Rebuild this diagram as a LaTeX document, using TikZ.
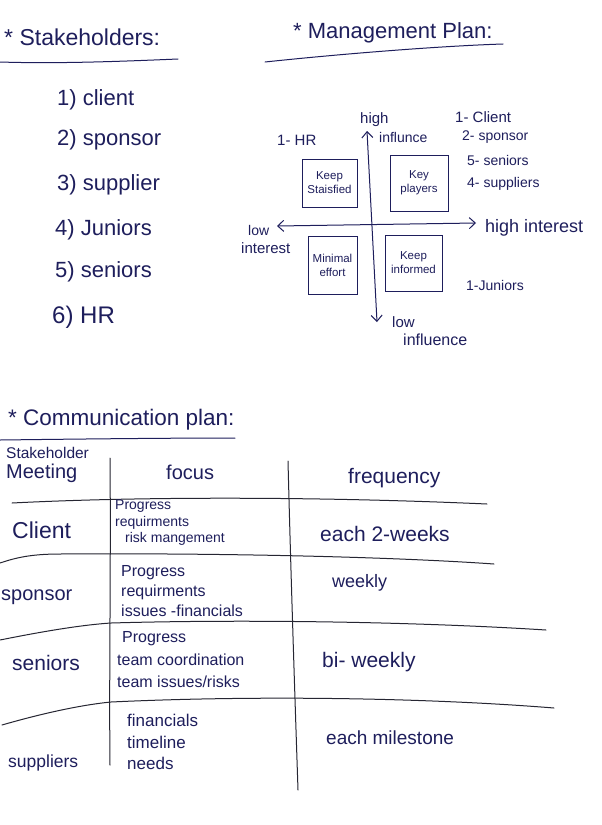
\documentclass[tikz,border=0pt]{standalone}
\usepackage{fontspec}
\setmainfont{Liberation Sans}
\usetikzlibrary{arrows.meta}
\definecolor{ink}{RGB}{30,30,92}
\definecolor{rule}{RGB}{38,38,50}
\begin{document}
\begin{tikzpicture}[x=1pt,y=-1pt,
  every node/.style={text=ink, inner sep=0pt},
  heading/.style={anchor=west, font=\fontsize{23}{26}\selectfont},
  listitem/.style={anchor=west, font=\fontsize{22}{24}\selectfont},
  note/.style={anchor=west, font=\fontsize{14}{16}\selectfont},
  quad/.style={draw=ink, line width=0.9pt, align=center,
    font=\fontsize{11.5}{14}\selectfont},
  pen/.style={draw=ink, line width=1pt, line cap=round},
  gridline/.style={draw=rule, line width=1pt, line cap=round},
  axis/.style={pen, {Straight Barb[length=6pt,width=11pt]}-{Straight Barb[length=6pt,width=11pt]}},
  rowlabel/.style={anchor=west, font=\fontsize{20}{24}\selectfont},
  focusline/.style={anchor=west, align=left},
  freq/.style={anchor=west, font=\fontsize{19}{22}\selectfont},
]
\useasboundingbox[fill=white] (0,0) rectangle (602,825);

% ---------- stakeholders ----------
\node[heading] (stk) at (4,37) {* Stakeholders:};
\draw[pen] (0,62) .. controls (60,64) and (130,61) .. (178,59);
\node[listitem] (s1) at (57,100) {1) client};
\node[listitem] (s2) at (57,140) {2) sponsor};
\node[listitem] (s3) at (57,185) {3) supplier};
\node[listitem] (s4) at (55,230) {4) Juniors};
\node[listitem] (s5) at (55,272) {5) seniors};
\node[listitem, font=\fontsize{24}{24}\selectfont] (s6) at (52,317) {6) HR};

% ---------- management plan (power / interest grid) ----------
\node[heading, font=\fontsize{22}{24}\selectfont] (mgt) at (293,33) {* Management Plan:};
\draw[pen] (265,62) .. controls (340,54) and (440,46) .. (503,44);

\coordinate (vtop) at (367,131);
\coordinate (vbot) at (377,322);
\coordinate (hleft) at (277,226);
\coordinate (hright) at (476,223);
\draw[axis] (vbot) -- (vtop);
\draw[axis] (hleft) -- (hright);

\node[note, font=\fontsize{15}{16}\selectfont] (hi1) at (360,120) {high};
\node[note, font=\fontsize{14}{16}\selectfont] (hi2) at (379,137) {influnce};
\node[note, font=\fontsize{15}{16}\selectfont] (hr) at (277,140) {1- HR};

\node[quad, minimum width=55pt, minimum height=48pt] (ks) at (329.5,183) {Keep\\Staisfied};
\node[quad, minimum width=58pt, minimum height=56pt] (kp) at (419,183) {Key\\players};
\node[quad, minimum width=49pt, minimum height=58pt] (me) at (332.5,265) {Minimal\\effort};
\node[quad, minimum width=57pt, minimum height=56pt] (ki) at (413.5,263) {Keep\\informed};

\node[note, font=\fontsize{14}{16}\selectfont] (li1) at (248,230) {low};
\node[note, font=\fontsize{15}{16}\selectfont] (li2) at (241,248) {interest};
\node[note, font=\fontsize{18}{20}\selectfont] (hint) at (485,228) {high interest};

\node[note, font=\fontsize{15}{16}\selectfont] (kp1) at (455,117) {1- Client};
\node[note, font=\fontsize{14}{16}\selectfont] (kp2) at (462,137) {2- sponsor};
\node[note, font=\fontsize{14}{16}\selectfont] (kp3) at (467,160) {5- seniors};
\node[note, font=\fontsize{14}{16}\selectfont] (kp4) at (467,184) {4- suppliers};
\node[note, font=\fontsize{14}{16}\selectfont] (ki1) at (466,285) {1-Juniors};

\node[note, font=\fontsize{15}{16}\selectfont] (lo1) at (392,322) {low};
\node[note, font=\fontsize{16}{16}\selectfont] (lo2) at (403,340) {influence};

% ---------- communication plan ----------
\node[heading, font=\fontsize{22.5}{26}\selectfont] (com) at (8,420) {* Communication plan:};
\draw[pen] (0,440) .. controls (80,439) and (170,438) .. (235,438);

% table rules
\draw[gridline] (110,458) .. controls (111,560) and (109,680) .. (110,765);
\draw[gridline] (288,461) .. controls (291,580) and (295,700) .. (298,790);
\draw[gridline] (12,503) .. controls (150,496) and (330,497) .. (487,504);
\draw[gridline] (0,563) .. controls (15,558) and (30,554) .. (60,554)
  .. controls (200,553) and (380,556) .. (494,564);
\draw[gridline] (0,640) .. controls (40,632) and (80,625) .. (111,623)
  .. controls (250,619) and (420,622) .. (546,630);
\draw[gridline] (2,725) .. controls (40,714) and (80,705) .. (111,702)
  .. controls (260,695) and (430,698) .. (554,708);

% header row
\node[anchor=west, font=\fontsize{15.5}{18}\selectfont] (hd1) at (6,453) {Stakeholder};
\node[anchor=west, font=\fontsize{20}{24}\selectfont] (hd2) at (6,473) {Meeting};
\node[anchor=west, font=\fontsize{20}{24}\selectfont] (hd3) at (166,472) {focus};
\node[anchor=west, font=\fontsize{21}{24}\selectfont] (hd4) at (348,478) {frequency};

% client
\node[rowlabel, font=\fontsize{23}{24}\selectfont] (r1) at (12,530) {Client};
\node[focusline, font=\fontsize{14}{16.5}\selectfont] (f1) at (115,523)
  {Progress\\requirments\\\hspace{10pt}risk mangement};
\node[freq, font=\fontsize{21}{22}\selectfont] (q1) at (320,534) {each 2-weeks};

% sponsor
\node[rowlabel] (r2) at (1,597) {sponsor};
\node[focusline, font=\fontsize{16}{20}\selectfont] (f2) at (121,591)
  {Progress\\requirments\\issues -financials};
\node[freq, font=\fontsize{18}{22}\selectfont] (q2) at (332,583) {weekly};

% seniors
\node[rowlabel, font=\fontsize{21}{24}\selectfont] (r3) at (12,663) {seniors};
\node[focusline, font=\fontsize{16}{22.5}\selectfont] (f3) at (117,660)
  {\hspace{5pt}Progress\\team coordination\\team issues/risks};
\node[freq, font=\fontsize{21}{22}\selectfont] (q3) at (322,662) {bi- weekly};

% suppliers
\node[rowlabel, font=\fontsize{17.5}{24}\selectfont] (r4) at (8,763) {suppliers};
\node[focusline, font=\fontsize{17}{21.5}\selectfont] (f4) at (127,742)
  {financials\\timeline\\needs};
\node[freq] (q4) at (326,738) {each milestone};
\end{tikzpicture}
\end{document}
